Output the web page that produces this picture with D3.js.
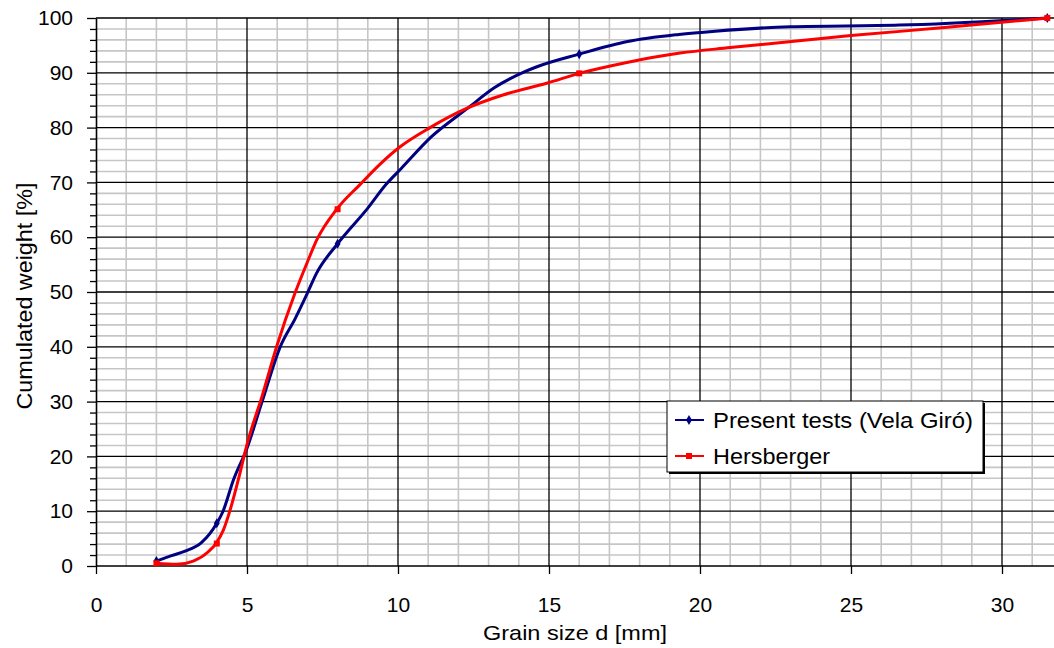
<!DOCTYPE html>
<html>
<head>
<meta charset="utf-8">
<script src="https://cdn.jsdelivr.net/npm/d3@7"></script>
<style>
  body { margin: 0; background: #fff; }
  svg { display: block; font-family: "Liberation Sans", Arial, sans-serif; }
</style>
</head>
<body>
<div id="chart"></div>
<script>
// grading curve of the sediment
const presentX = [2, 2.5, 2.95, 3.5, 4.0, 4.2, 4.55, 5.0, 5.5, 6.1, 6.6, 7.0, 7.3, 8.0, 9.0, 9.6, 10.1, 11.1, 12.3, 13.2, 14.2, 14.6, 16, 17.6, 19.3, 20.5, 23, 26.6, 31.5];
const presentY = [0.9, 1.9, 2.7, 4.3, 7.8, 9.9, 15.7, 21.5, 30, 40, 45.2, 49.8, 53.4, 58.8, 65.3, 69.6, 72.5, 78.3, 83.5, 87.3, 90.2, 91.1, 93.4, 95.7, 97.0, 97.6, 98.4, 98.7, 100];
const hersX = [2, 2.67, 3.22, 3.72, 3.97, 4.22, 4.44, 4.71, 5.04, 5.5, 5.98, 6.59, 6.98, 7.31, 7.97, 8.74, 9.4, 10.07, 11.06, 12.27, 13.5, 14.92, 16, 17.5, 19.34, 21, 25, 28, 31.5];
const hersY = [0.5, 0.3, 0.9, 2.6, 4.1, 6.6, 10.2, 15.7, 23, 31, 40, 49.8, 55.2, 59.5, 65.1, 69.6, 73.3, 76.5, 80, 83.5, 86, 88.1, 89.9, 91.8, 93.6, 94.6, 96.8, 98.2, 100];
// sieve sizes that carry a marker
const sieveX = [2, 4, 8, 16, 31.5];
const presentMarkY = [0.9, 7.8, 58.8, 93.4, 100];
const hersMarkY = [0.5, 4.1, 65.1, 89.9, 100];
const seriesNames = ["Present tests (Vela Giró)", "Hersberger"];
const xTicks = [0, 5, 10, 15, 20, 25, 30];
const yTicks = [0, 10, 20, 30, 40, 50, 60, 70, 80, 90, 100];

const width = 1054, height = 648;
const plotLeft = 96, plotTop = 18, plotBottom = 566;

const svg = d3.select("#chart").append("svg")
  .attr("width", width).attr("height", height);

// plot runs off the right edge of the picture
const x = d3.scaleLinear().domain([0, 32]).range([plotLeft, plotLeft + 32 * 30.2]);
const y = d3.scaleLinear().domain([0, 100]).range([plotBottom, plotTop]);

const grid = svg.append("g");
// minor grid
grid.selectAll(".vx").data(d3.range(1, 32).filter(d => d % 5 != 0)).enter().append("line")
  .attr("x1", d => x(d)).attr("x2", d => x(d)).attr("y1", plotTop).attr("y2", plotBottom)
  .attr("stroke", "#c6c6c6").attr("stroke-width", 1.6);
grid.selectAll(".hy").data(d3.range(2, 100, 2).filter(d => d % 10 != 0)).enter().append("line")
  .attr("x1", plotLeft).attr("x2", width).attr("y1", d => y(d)).attr("y2", d => y(d))
  .attr("stroke", "#c6c6c6").attr("stroke-width", 1.6);
// major grid
grid.selectAll(".mx").data(xTicks.slice(1)).enter().append("line")
  .attr("x1", d => x(d)).attr("x2", d => x(d)).attr("y1", plotTop).attr("y2", plotBottom)
  .attr("stroke", "#000").attr("stroke-width", 1.3);
grid.selectAll(".my").data(yTicks.slice(1)).enter().append("line")
  .attr("x1", plotLeft).attr("x2", width).attr("y1", d => y(d)).attr("y2", d => y(d))
  .attr("stroke", "#000").attr("stroke-width", 1.3);

// axes
const xAxis = svg.append("g").attr("transform", `translate(0,${plotBottom})`)
  .call(d3.axisBottom(x).tickValues(xTicks).tickSize(8).tickPadding(23).tickSizeOuter(0));
const yAxis = svg.append("g").attr("transform", `translate(${plotLeft},0)`)
  .call(d3.axisLeft(y).tickValues(yTicks).tickSize(9).tickPadding(14).tickSizeOuter(0));
svg.append("g").attr("transform", `translate(${plotLeft},0)`)
  .call(d3.axisLeft(y).tickValues(d3.range(2, 100, 2).filter(d => d % 10 != 0)).tickSize(6).tickFormat("").tickSizeOuter(0))
  .call(g => g.select(".domain").remove())
  .selectAll("line").attr("stroke-width", 1.3);
[xAxis, yAxis].forEach(g => {
  g.select(".domain").attr("stroke-width", 1.6);
  g.selectAll("line").attr("stroke-width", 1.3);
  g.selectAll("text").style("font-size", "21px").attr("fill", "#000");
});
xAxis.select(".domain").attr("d", `M${plotLeft},0H${width}`);

svg.append("text").attr("x", 575).attr("y", 640).attr("text-anchor", "middle")
  .style("font-size", "21px").attr("textLength", 184).attr("lengthAdjust", "spacingAndGlyphs")
  .text("Grain size d [mm]");
svg.append("text").attr("transform", "translate(32,296) rotate(-90)").attr("text-anchor", "middle")
  .style("font-size", "22px").attr("textLength", 227).attr("lengthAdjust", "spacingAndGlyphs")
  .text("Cumulated weight [%]");

// curves
const line = d3.line().x(d => x(d[0])).y(d => y(d[1])).curve(d3.curveMonotoneX);
const plot = svg.append("g");
plot.append("path").datum(d3.zip(presentX, presentY))
  .attr("d", line).attr("fill", "none").attr("stroke", "#000080").attr("stroke-width", 3);
plot.append("path").datum(d3.zip(hersX, hersY))
  .attr("d", line).attr("fill", "none").attr("stroke", "#ff0000").attr("stroke-width", 3);

plot.selectAll(".pm").data(d3.zip(sieveX, presentMarkY)).enter().append("path")
  .attr("transform", d => `translate(${x(d[0])},${y(d[1])})`)
  .attr("d", d3.symbol(d3.symbolDiamond, 30)).attr("fill", "#000080");
plot.selectAll(".hm").data(d3.zip(sieveX, hersMarkY)).enter().append("rect")
  .attr("x", d => x(d[0]) - 3).attr("y", d => y(d[1]) - 3)
  .attr("width", 6).attr("height", 6).attr("fill", "#ff0000");

// legend
const lg = svg.append("g").attr("transform", "translate(667,401)");
lg.append("rect").attr("x", 2).attr("y", 2).attr("width", 316).attr("height", 71).attr("fill", "#000");
lg.append("rect").attr("width", 316).attr("height", 71).attr("fill", "#fff").attr("stroke", "#000").attr("stroke-width", 1);
const colors = ["#000080", "#ff0000"];
const legendWidths = [260, 117];
seriesNames.forEach((name, i) => {
  const cy = 19 + i * 36;
  lg.append("line").attr("x1", 8).attr("x2", 37).attr("y1", cy).attr("y2", cy)
    .attr("stroke", colors[i]).attr("stroke-width", 2);
  if (i == 0) {
    lg.append("path").attr("transform", `translate(22,${cy})`)
      .attr("d", d3.symbol(d3.symbolDiamond, 30)).attr("fill", colors[i]);
  } else {
    lg.append("rect").attr("x", 19).attr("y", cy - 3).attr("width", 6).attr("height", 6).attr("fill", colors[i]);
  }
  lg.append("text").attr("x", 46).attr("y", cy + 8).style("font-size", "22px")
    .attr("textLength", legendWidths[i]).attr("lengthAdjust", "spacingAndGlyphs").text(name);
});
</script>
</body>
</html>
